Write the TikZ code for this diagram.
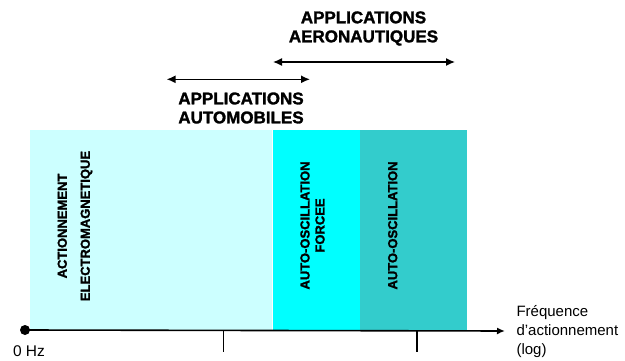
\documentclass[tikz,border=0pt]{standalone}
\usepackage{fontspec}
\setmainfont{Liberation Sans}
\newfontfamily\heavyfont[FakeBold=1.6]{Liberation Sans Bold}
\usetikzlibrary{
  arrows.meta,
  positioning,
  calc
}
\definecolor{bandLight}{HTML}{CCFFFF}
\definecolor{bandCyan}{HTML}{00FFFF}
\definecolor{bandTeal}{HTML}{33CCCC}
\tikzset{
  band/.style={
    draw=none,
    fill=#1,
    anchor=north west,
    inner sep=0pt,
    minimum height=201pt
  },
  bandlabel/.style={
    rotate=90,
    align=center,
    font=\fontsize{13}{15}\selectfont\heavyfont
  },
  applabel/.style={
    align=center,
    font=\fontsize{17}{19}\selectfont\heavyfont
  },
  rangearrow/.style={
    {Latex[length=9pt,width=8pt]}-{Latex[length=9pt,width=8pt]},
    line width=1.4pt
  },
  axisarrow/.style={
    -{Latex[length=8pt,width=7pt]},
    line width=1.6pt
  },
  axislabel/.style={font=\fontsize{15}{19}\selectfont, align=left}
}

\begin{document}
\begin{tikzpicture}[x=1pt, y=-1pt]
  \useasboundingbox (0,0) rectangle (625,361);
  % bandes de frequence
  \node[band=bandLight, minimum width=242pt] (elec) at (30,130) {};
  \node[band=bandCyan, minimum width=87pt] (forc) at (elec.north east) {};
  \node[band=bandTeal, minimum width=106.5pt] (osc) at (forc.north east) {};
  \node[bandlabel, font=\fontsize{13}{23}\selectfont\heavyfont] (elecl) at (75,226)
    {ACTIONNEMENT\\ELECTROMAGNETIQUE};
  \node[bandlabel] (forcl) at (312.5,225.5) {AUTO-OSCILLATION\\FORCEE};
  \node[bandlabel] (oscl) at (392.7,225.5) {AUTO-OSCILLATION};
  % domaines d'application
  \coordinate (aeroA) at (273,62);
  \coordinate (aeroB) at (455,62);
  \coordinate (autoA) at (166.6,79.3);
  \coordinate (autoB) at (310,79.3);
  \draw[rangearrow] (aeroA) -- (aeroB);
  \draw[rangearrow] (autoA) -- (autoB);
  \node[applabel] (aero) at (363.5,28.5) {APPLICATIONS\\AERONAUTIQUES};
  \node[applabel] (auto) at (241,108) {APPLICATIONS\\AUTOMOBILES};
  % axe des frequences
  \node[circle, fill=black, inner sep=0pt, minimum size=10pt] (zero) at (25,330) {};
  \coordinate (axend) at (505,331);
  \draw[axisarrow] (zero.center) -- (axend);
  \node[axislabel, anchor=west] (freq) at (513,332) {Fréquence\\d'actionnement\\(log)};
  \node[font=\fontsize{15.5}{19}\selectfont] (zerol) at (29,351) {0 Hz};
  \foreach \tx [count=\i] in {223.6,417} {
    \coordinate (tickA\i) at (\tx,331);
    \coordinate (tickB\i) at (\tx,352);
    \draw[line width=1.4pt] (tickA\i) -- (tickB\i);
  }
\end{tikzpicture}
\end{document}
